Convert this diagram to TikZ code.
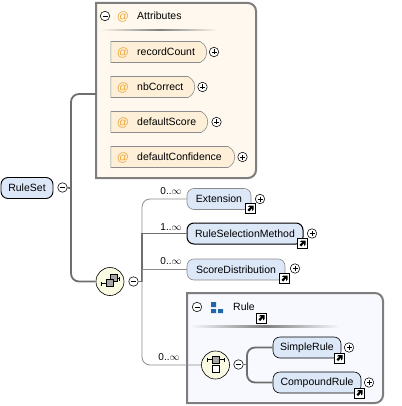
\documentclass[tikz,border=0pt]{standalone}
\usepackage{fontspec}
\setmainfont{Liberation Sans}
\usetikzlibrary{calc,positioning,shapes.misc}
\definecolor{line}{HTML}{6E6E6E}
\definecolor{thinline}{HTML}{8C8C8C}
\definecolor{elemfill}{HTML}{DCE7F8}
\definecolor{attrfill}{HTML}{FDEFD8}
\definecolor{attrbox}{HTML}{FEF8EE}
\definecolor{rulebox}{HTML}{F7F9FE}
\definecolor{modelfill}{HTML}{FBFBE4}
\definecolor{atsign}{HTML}{EFA93A}
\definecolor{ruleblue}{HTML}{1F66AE}
\tikzset{
  elem/.style={draw=black,fill=elemfill,rounded corners=7pt,line width=0.6pt,minimum height=21pt,inner sep=0pt,font=\fontsize{10.5}{13}\selectfont},
  optelem/.style={elem,draw=thinline},
  reqelem/.style={elem,line width=1pt},
  attr/.style={rounded rectangle,rounded rectangle west arc=none,rounded rectangle arc length=130,draw=thinline,fill=attrfill,line width=0.6pt,minimum height=21pt,inner sep=0pt},
  lbl/.style={font=\fontsize{10.5}{13}\selectfont,inner sep=0pt},
  occ/.style={font=\fontsize{10}{12}\selectfont,inner sep=0pt},
  atmark/.style={font=\fontsize{12}{14}\selectfont,text=atsign,inner sep=0pt},
  btn/.style={circle,draw=black,fill=white,line width=0.55pt,minimum size=9.5pt,inner sep=0pt},
  minusbtn/.style={btn,path picture={\draw[line width=0.5pt] ($(path picture bounding box.center)+(-2.5,0)$) -- ++(5,0);}},
  plusbtn/.style={btn,path picture={\draw[line width=0.5pt] ($(path picture bounding box.center)+(-2.5,0)$) -- ++(5,0);
    \draw[line width=0.5pt] ($(path picture bounding box.center)+(0,-2.5)$) -- ++(0,5);}},
  model/.style={circle,draw=black,fill=modelfill,line width=0.6pt,minimum size=28pt,inner sep=0pt},
  thick line/.style={draw=line,line width=1.8pt},
  thin line/.style={draw=thinline,line width=0.8pt},
  linkicon/.pic={
    \draw[black,fill=white,line width=0.8pt] (-5,-5) rectangle (5,5);
    \fill[black] (-2.6,-1.6) -- (-1.2,-3) -- (3,-3) -- (3,1.2) -- (1.6,2.4) -- (1.6,-0.2) -- (-1.4,3) -- (-3,1.4) -- (0,-1.6) -- cycle;
  },
  greybox/.style={draw=black,fill=black!35,line width=0.5pt},
}
\begin{document}
\begin{tikzpicture}[x=1pt,y=-1pt]
  \useasboundingbox (0,0) rectangle (401,406);
  % boxes
  \coordinate (attrsnw) at (96,3);
  \coordinate (attrsse) at (256,178);
  \draw[draw=thinline!90!black,fill=attrbox,line width=2pt] (attrsnw) [rounded corners=8pt] -- (attrsnw -| attrsse) -- (attrsse) [sharp corners] -- (attrsse -| attrsnw) -- cycle;
  \coordinate (rulenw) at (187,293);
  \coordinate (rulese) at (383,403);
  \draw[draw=thinline!90!black,fill=rulebox,line width=2pt] (rulenw) [rounded corners=8pt] -- (rulenw -| rulese) -- (rulese) [sharp corners] -- (rulese -| rulenw) -- cycle;
  \fill[left color=attrbox,right color=attrbox,middle color=black!50] (100,29.5) rectangle (218,31);
  \fill[left color=rulebox,right color=rulebox,middle color=black!50] (190,325.5) rectangle (340,327);
  % root
  \node[elem,line width=0.9pt,minimum width=52pt] (ruleset) at (27,188) {RuleSet};
  \node[minusbtn] (rulesetbtn) at (62.5,187.5) {};
  \coordinate (trunk) at (71,188);
  % attributes
  \node[minusbtn] (attrsbtn) at (105,16) {};
  \node[atmark] (attrsat) at (123,17) {@};
  \node[lbl,anchor=west] (attrs) at (137,16) {Attributes};
  \coordinate (attrsin) at (96,94);
  \foreach \nm/\wid/\yy/\bx in {recordCount/96/52/214,nbCorrect/84/87/202.5,defaultScore/97/122/216.5,defaultConfidence/124/157/242.5}{
    \node[attr,minimum width=\wid pt,anchor=west] (\nm) at (110.5,\yy) {};
    \node[atmark] (\nm at) at (123,\yy+1) {@};
    \node[lbl,anchor=west] (\nm txt) at (137,\yy) {\nm};
    \node[plusbtn] (\nm btn) at (\bx,\yy) {};
  }
  % sequence
  \node[model] (seq) at (110,281.5) {};
  \draw[black,line width=0.6pt] (101,283.5) -- (106,283.5);
  \draw[black,line width=0.8pt] (101,281.5) -- (101,285.5);
  \draw[black,line width=0.8pt] (119.5,276.5) -- (119.5,280.5);
  \draw[black,line width=0.6pt] (116,278.5) -- (119.5,278.5);
  \draw[greybox] (110,274.5) rectangle (117,281.5);
  \draw[greybox] (106.5,279) rectangle (113.5,286);
  \node[minusbtn] (seqbtn) at (133.5,281.5) {};
  \coordinate (hub) at (142,281.5);
  % children of sequence
  \node[optelem,minimum width=64pt] (extension) at (219,199) {Extension};
  \node[reqelem,minimum width=116pt] (selection) at (245,233.5) {RuleSelectionMethod};
  \node[optelem,minimum width=98pt] (scoredist) at (236,269.5) {ScoreDistribution};
  \pic at (250.5,208.5) {linkicon};
  \pic at (302.5,243.5) {linkicon};
  \pic at (284.5,278.5) {linkicon};
  \node[plusbtn] (extensionbtn) at (260,199) {};
  \node[plusbtn] (selectionbtn) at (312,233.5) {};
  \node[plusbtn] (scoredistbtn) at (295,268.5) {};
  \node[occ] (occa) at (171,191) {0..$\infty$};
  \node[occ] (occb) at (171,227) {1..$\infty$};
  \node[occ] (occc) at (171,261.5) {0..$\infty$};
  \node[occ] (occd) at (169,357) {0..$\infty$};
  % rule
  \node[minusbtn] (rulebtn) at (197,307) {};
  \fill[ruleblue] (211,302) rectangle (216,307) (211,309) rectangle (216,313) (218,309) rectangle (223,313);
  \node[lbl,anchor=west] (rulelbl) at (233,307) {Rule};
  \pic at (261.5,318) {linkicon};
  \node[model] (choice) at (215.5,365) {};
  \draw[black,line width=0.6pt] (207,359.5) -- (224,359.5);
  \draw[black,line width=0.8pt] (207,357.5) -- (207,361.5) (224,357.5) -- (224,361.5);
  \draw[greybox] (212,356) rectangle (219,363);
  \draw[black,fill=white,line width=0.6pt] (212,365.5) rectangle (219,372.5);
  \node[minusbtn] (choicebtn) at (238.5,364.5) {};
  \coordinate (fork) at (247,364.5);
  \node[elem,minimum width=68pt] (simplerule) at (307,347.5) {SimpleRule};
  \node[elem,minimum width=88pt] (compoundrule) at (317,382.5) {CompoundRule};
  \pic at (339.5,358) {linkicon};
  \pic at (359.5,393) {linkicon};
  \node[plusbtn] (simplerulebtn) at (349,347.5) {};
  \node[plusbtn] (compoundrulebtn) at (369,382.5) {};
  % connectors
  \draw[thick line] (rulesetbtn) -- (trunk);
  \draw[thick line,rounded corners=8pt] (attrsin) -| (trunk) |- (seq);
  \draw[thick line] (seqbtn) -- (hub);
  \draw[thin line,rounded corners=8pt] (hub) |- (extension);
  \draw[thick line] (hub) |- (selection);
  \draw[thin line] (hub) |- (scoredist);
  \draw[thin line,rounded corners=8pt] (hub) |- (choice);
  \draw[thick line] (choicebtn) -- (fork);
  \draw[thick line,rounded corners=8pt] (simplerule) -| (fork) |- (compoundrule);
\end{tikzpicture}
\end{document}
